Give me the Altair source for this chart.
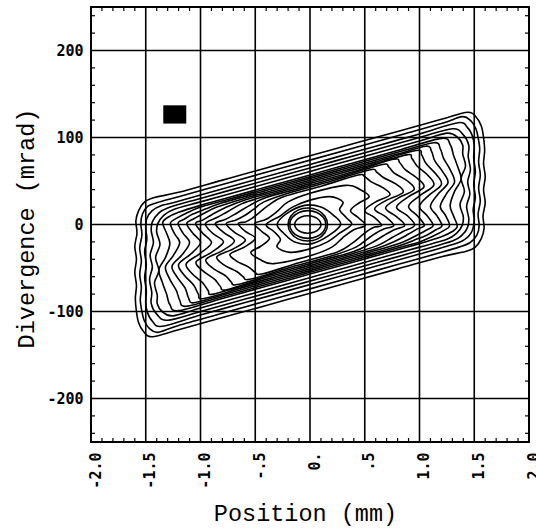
import altair as alt
import pandas as pd

# ---- axis ticks / labels ----
x_tick_values = [-2.0, -1.5, -1.0, -0.5, 0.0, 0.5, 1.0, 1.5, 2.0]
x_tick_labels = ["-2.0", "-1.5", "-1.0", "-.5", "0.", ".5", "1.0", "1.5", "2.0"]
y_tick_values = [-200, -100, 0, 100, 200]
y_tick_labels = ["-200", "-100", "0", "100", "200"]
x_grid = [-1.5, -1.0, -0.5, 0.0, 0.5, 1.0, 1.5]
y_grid = [-200, -100, 0, 100, 200]
x_minor = [-1.9, -1.8, -1.7, -1.6, -1.4, -1.3, -1.2, -1.1, -0.9, -0.8, -0.7, -0.6,
           -0.4, -0.3, -0.2, -0.1, 0.1, 0.2, 0.3, 0.4, 0.6, 0.7, 0.8, 0.9,
           1.1, 1.2, 1.3, 1.4, 1.6, 1.7, 1.8, 1.9]
y_minor = [-240, -220, -180, -160, -140, -120, -80, -60, -40, -20,
           20, 40, 60, 80, 120, 140, 160, 180, 220, 240]

# ---- black square marker ----
marker_x = [-1.34]
marker_x2 = [-1.13]
marker_y = [116]
marker_y2 = [137]

# ---- contour lines (position mm, divergence mrad), outermost first ----
C01 = [(-1.42, 31), (-1.51, 26), (-1.565, 16),
       (-1.59, 4), (-1.58, -10), (-1.60, -25), (-1.585, -40), (-1.60, -55), (-1.585, -70),
       (-1.595, -85), (-1.585, -100), (-1.565, -113), (-1.52, -123), (-1.44, -129),
       (-1.2, -121), (-0.8, -107), (-0.4, -93), (0.0, -79), (0.4, -65), (0.8, -51), (1.2, -37),
       (1.42, -31), (1.51, -26), (1.565, -16),
       (1.59, -4), (1.58, 10), (1.60, 25), (1.585, 40), (1.60, 55), (1.585, 70), (1.595, 85),
       (1.585, 100), (1.565, 113), (1.52, 123), (1.44, 129),
       (1.2, 121), (0.8, 107), (0.4, 93), (0.0, 79), (-0.4, 65), (-0.8, 51), (-1.2, 37)]
C02 = [(-1.40, 25), (-1.48, 21), (-1.53, 12),
       (-1.545, 1), (-1.535, -12), (-1.555, -27), (-1.54, -42), (-1.555, -57), (-1.54, -72),
       (-1.55, -87), (-1.535, -100), (-1.515, -110), (-1.47, -119), (-1.39, -124),
       (-1.2, -116), (-0.8, -102), (-0.4, -88), (0.0, -74), (0.4, -60), (0.8, -46), (1.2, -32),
       (1.36, -26), (1.46, -21), (1.525, -12),
       (1.545, -1), (1.535, 12), (1.555, 27), (1.54, 42), (1.555, 57), (1.54, 72), (1.55, 87),
       (1.535, 100), (1.515, 110), (1.47, 119), (1.39, 124),
       (1.2, 116), (0.8, 102), (0.4, 88), (0.0, 74), (-0.4, 60), (-0.8, 46), (-1.2, 32)]
C03 = [(-1.35, 22), (-1.44, 16), (-1.49, 7),
       (-1.50, -4), (-1.49, -17), (-1.51, -31), (-1.495, -46), (-1.51, -61), (-1.495, -76),
       (-1.50, -90), (-1.485, -101), (-1.44, -111), (-1.35, -117),
       (-1.0, -104), (-0.6, -90), (-0.2, -76), (0.2, -62), (0.6, -48), (1.0, -34), (1.25, -25),
       (1.39, -19), (1.47, -10),
       (1.50, 4), (1.49, 17), (1.51, 31), (1.495, 46), (1.51, 61), (1.495, 76), (1.50, 90),
       (1.485, 101), (1.44, 111), (1.35, 117),
       (1.0, 104), (0.6, 90), (0.2, 76), (-0.2, 62), (-0.6, 48), (-1.0, 34), (-1.25, 25)]
C04 = [(-1.30, 19), (-1.39, 12), (-1.44, 3),
       (-1.45, -7), (-1.43, -21), (-1.46, -35), (-1.44, -49), (-1.465, -63), (-1.445, -78),
       (-1.45, -91), (-1.40, -103), (-1.30, -110),
       (-1.0, -100), (-0.6, -86), (-0.2, -72), (0.2, -58), (0.6, -44), (1.0, -30), (1.30, -19),
       (1.39, -12), (1.44, -3),
       (1.45, 7), (1.43, 21), (1.46, 35), (1.44, 49), (1.465, 63), (1.445, 78), (1.45, 91),
       (1.40, 103), (1.30, 110),
       (1.0, 100), (0.6, 86), (0.2, 72), (-0.2, 58), (-0.6, 44), (-1.0, 30)]
C05 = [(-1.25, 17), (-1.34, 10), (-1.39, 1),
       (-1.40, -9), (-1.37, -23), (-1.41, -38), (-1.38, -53), (-1.42, -67), (-1.395, -81),
       (-1.395, -91), (-1.35, -100), (-1.25, -105),
       (-1.0, -96), (-0.6, -82), (-0.2, -68), (0.2, -54), (0.6, -40), (1.0, -26), (1.25, -17),
       (1.34, -10), (1.39, -1),
       (1.40, 9), (1.37, 23), (1.41, 38), (1.38, 53), (1.42, 67), (1.395, 81), (1.395, 91),
       (1.35, 100), (1.25, 105),
       (1.0, 96), (0.6, 82), (0.2, 68), (-0.2, 54), (-0.6, 40), (-1.0, 26)]
C06 = [(-1.345, 2), (-1.31, -10), (-1.28, -22), (-1.32, -38), (-1.38, -52), (-1.35, -66),
       (-1.31, -80), (-1.28, -92), (-1.2, -99),
       (-0.8, -85), (-0.4, -71), (0.0, -57), (0.4, -43), (0.8, -29), (1.0, -22), (1.2, -14),
       (1.30, -8), (1.345, -2),
       (1.31, 10), (1.28, 22), (1.32, 38), (1.38, 52), (1.35, 66), (1.31, 80), (1.28, 92),
       (1.2, 99),
       (0.8, 85), (0.4, 71), (0.0, 57), (-0.4, 43), (-0.8, 29), (-1.0, 22), (-1.2, 14), (-1.30, 8)]
C07 = [(-1.275, 1.5), (-1.24, -10), (-1.19, -21), (-1.25, -36), (-1.32, -49), (-1.28, -63),
       (-1.22, -76), (-1.19, -87), (-1.13, -94),
       (-0.8, -83), (-0.4, -69), (0.0, -55), (0.4, -41), (0.8, -27), (1.0, -20), (1.13, -13),
       (1.22, -7), (1.275, -1.5),
       (1.24, 10), (1.19, 21), (1.25, 36), (1.32, 49), (1.28, 63), (1.22, 76), (1.19, 87),
       (1.13, 94),
       (0.8, 83), (0.4, 69), (0.0, 55), (-0.4, 41), (-0.8, 27), (-1.0, 20), (-1.13, 13), (-1.22, 7)]
C08 = [(-1.205, 1.5), (-1.16, -10), (-1.10, -21), (-1.17, -35), (-1.26, -48), (-1.21, -61),
       (-1.14, -73), (-1.11, -84), (-1.06, -90),
       (-0.8, -81), (-0.4, -67), (0.0, -53), (0.4, -39), (0.8, -25), (0.95, -18), (1.07, -12),
       (1.15, -6), (1.205, -1.5),
       (1.16, 10), (1.10, 21), (1.17, 35), (1.26, 48), (1.21, 61), (1.14, 73), (1.11, 84),
       (1.06, 90),
       (0.8, 81), (0.4, 67), (0.0, 53), (-0.4, 39), (-0.8, 25), (-0.95, 18), (-1.07, 12), (-1.15, 6)]
C09 = [(-1.125, 1), (-1.07, -10), (-1.00, -21), (-1.09, -34), (-1.20, -46), (-1.15, -58),
       (-1.06, -70), (-1.02, -80), (-0.97, -85),
       (-0.6, -72), (-0.2, -58), (0.2, -44), (0.6, -30), (0.85, -20), (0.98, -12), (1.07, -6),
       (1.125, -1),
       (1.07, 10), (1.00, 21), (1.09, 34), (1.20, 46), (1.15, 58), (1.06, 70), (1.02, 80),
       (0.97, 85),
       (0.6, 72), (0.2, 58), (-0.2, 44), (-0.6, 30), (-0.85, 20), (-0.98, 12), (-1.07, 6)]
C10 = [(-1.045, 1), (-0.98, -10), (-0.90, -21), (-1.00, -33), (-1.13, -45), (-1.08, -56),
       (-0.98, -67), (-0.93, -76), (-0.88, -80),
       (-0.5, -66.5), (-0.1, -52.5), (0.3, -38.5), (0.6, -28), (0.78, -19), (0.9, -11),
       (0.98, -5), (1.045, -1),
       (0.98, 10), (0.90, 21), (1.00, 33), (1.13, 45), (1.08, 56), (0.98, 67), (0.93, 76),
       (0.88, 80),
       (0.5, 66.5), (0.1, 52.5), (-0.3, 38.5), (-0.6, 28), (-0.78, 19), (-0.9, 11), (-0.98, 5)]
C11 = [(-0.955, 1), (-0.89, -10), (-0.79, -20), (-0.90, -32), (-1.04, -43), (-0.98, -53),
       (-0.87, -63), (-0.82, -71), (-0.76, -75),
       (-0.4, -61), (0.0, -47), (0.4, -33), (0.62, -24), (0.75, -15), (0.85, -8), (0.955, -1),
       (0.89, 10), (0.79, 20), (0.90, 32), (1.04, 43), (0.98, 53), (0.87, 63), (0.82, 71),
       (0.76, 75),
       (0.4, 61), (0.0, 47), (-0.4, 33), (-0.62, 24), (-0.75, 15), (-0.85, 8)]
C12 = [(-0.865, 1), (-0.79, -9), (-0.69, -19), (-0.80, -30), (-0.95, -40), (-0.89, -50),
       (-0.77, -59), (-0.72, -66), (-0.66, -69),
       (-0.3, -55.5), (0.1, -41.5), (0.4, -31), (0.55, -22), (0.67, -13), (0.77, -6), (0.865, -1),
       (0.79, 9), (0.69, 19), (0.80, 30), (0.95, 40), (0.89, 50), (0.77, 59), (0.72, 66),
       (0.66, 69),
       (0.3, 55.5), (-0.1, 41.5), (-0.4, 31), (-0.55, 22), (-0.67, 13), (-0.77, 6)]
C13 = [(-0.765, 1), (-0.69, -9), (-0.59, -18), (-0.70, -28), (-0.85, -37), (-0.79, -46),
       (-0.67, -54), (-0.61, -60), (-0.55, -63),
       (-0.2, -50), (0.2, -36), (0.42, -26), (0.52, -17), (0.6, -10), (0.68, -5), (0.765, -1),
       (0.69, 9), (0.59, 18), (0.70, 28), (0.85, 37), (0.79, 46), (0.67, 54), (0.61, 60),
       (0.55, 63),
       (0.2, 50), (-0.2, 36), (-0.42, 26), (-0.52, 17), (-0.6, 10), (-0.68, 5)]
C14 = [(-0.655, 1), (-0.59, -8), (-0.50, -16), (-0.60, -26), (-0.73, -34), (-0.67, -42),
       (-0.56, -49), (-0.50, -55), (-0.44, -57),
       (-0.1, -44), (0.25, -31.5), (0.38, -22), (0.46, -14), (0.53, -7), (0.59, -3), (0.655, -1),
       (0.59, 8), (0.50, 16), (0.60, 26), (0.73, 34), (0.67, 42), (0.56, 49), (0.50, 55),
       (0.44, 57),
       (0.1, 44), (-0.25, 31.5), (-0.38, 22), (-0.46, 14), (-0.53, 7), (-0.59, 3)]
C15 = [(-0.505, 1), (-0.44, -8), (-0.37, -16), (-0.45, -25), (-0.54, -32), (-0.46, -40),
       (-0.33, -45), (0.0, -36), (0.2, -26), (0.3, -15), (0.4, -6), (0.505, -1),
       (0.44, 8), (0.37, 16), (0.45, 25), (0.54, 32), (0.46, 40), (0.33, 45),
       (0.0, 36), (-0.2, 26), (-0.3, 15), (-0.4, 6)]
C16 = [(-0.40, 0), (-0.33, -8), (-0.27, -17), (-0.30, -26), (-0.18, -32), (0.0, -28),
       (0.16, -20), (0.27, -10), (0.38, 0),
       (0.33, 8), (0.27, 17), (0.30, 26), (0.18, 32), (0.0, 28), (-0.16, 20), (-0.27, 10)]
C17 = [(-0.30, 0), (-0.22, 12), (-0.05, 22), (0.10, 20), (0.22, 10), (0.28, 0),
       (0.18, -12), (0.02, -22), (-0.14, -20), (-0.24, -10)]
C18 = [(0.16, 0), (0.136, 9.5), (0.07, 16.5), (-0.02, 19), (-0.11, 16.5), (-0.176, 9.5),
       (-0.20, 0), (-0.176, -9.5), (-0.11, -16.5), (-0.02, -19), (0.07, -16.5), (0.136, -9.5)]
C19 = [(0.145, 0), (0.123, 8), (0.063, 13.9), (-0.02, 16), (-0.10, 13.9), (-0.163, 8),
       (-0.185, 0), (-0.163, -8), (-0.10, -13.9), (-0.02, -16), (0.063, -13.9), (0.123, -8)]
C20 = [(0.10, 0), (0.084, 5), (0.04, 8.7), (-0.02, 10), (-0.08, 8.7), (-0.124, 5),
       (-0.14, 0), (-0.124, -5), (-0.08, -8.7), (-0.02, -10), (0.04, -8.7), (0.084, -5)]

contours = [C01, C02, C03, C04, C05, C06, C07, C08, C09, C10,
            C11, C12, C13, C14, C15, C16, C17, C18, C19, C20]

rows = []
for ci, pts in enumerate(contours):
    for i, (px, py) in enumerate(pts):
        rows.append({"c": ci, "i": i, "x": px, "y": py})
contour_df = pd.DataFrame(rows)

xgrid_df = pd.DataFrame({"x": x_grid})
ygrid_df = pd.DataFrame({"y": y_grid})
xminor_df = pd.DataFrame({"x": x_minor})
yminor_df = pd.DataFrame({"y": y_minor})
marker_df = pd.DataFrame({"x": marker_x, "x2": marker_x2, "y": marker_y, "y2": marker_y2})

W, H = 438, 435
xscale = alt.Scale(domain=[-2, 2], nice=False, zero=False)
yscale = alt.Scale(domain=[-250, 250], nice=False, zero=False)


def js_key(v):
    return f"{v:g}"


x_label_expr = "{" + ", ".join(f"'{js_key(v)}': '{s}'" for v, s in zip(x_tick_values, x_tick_labels)) + "}[toString(datum.value)]"
y_label_expr = "{" + ", ".join(f"'{js_key(v)}': '{s}'" for v, s in zip(y_tick_values, y_tick_labels)) + "}[toString(datum.value)]"

x_axis = alt.Axis(
    values=x_tick_values, labelExpr=x_label_expr, labelAngle=270,
    labelFont="DejaVu Sans Mono", labelFontWeight="bold", labelFontSize=15,
    labelColor="black", labelPadding=10, labelOffset=4, labelFlush=False,
    labelOverlap=False, labelBound=False, ticks=False, domain=False, grid=False,
    title="Position (mm)", titleFont="Liberation Mono", titleFontSize=23.5,
    titleFontWeight="normal", titleColor="black", titleX=214, titleY=71,
    titleBaseline="middle", titleAlign="center",
)
y_axis = alt.Axis(
    values=y_tick_values, labelExpr=y_label_expr,
    labelFont="DejaVu Sans Mono", labelFontWeight="bold", labelFontSize=15,
    labelColor="black", labelPadding=8, labelFlush=False, labelOverlap=False,
    ticks=False, domain=False, grid=False,
    title="Divergence (mrad)", titleFont="Liberation Mono", titleFontSize=23.5,
    titleFontWeight="normal", titleColor="black", titleX=-65, titleY=221,
    titleBaseline="middle", titleAlign="center", titleAngle=270,
)

X = alt.X("x:Q", scale=xscale, axis=x_axis)
Y = alt.Y("y:Q", scale=yscale, axis=y_axis)

grid_v = alt.Chart(xgrid_df).mark_rule(color="black", strokeWidth=1.6).encode(x=X)
grid_h = alt.Chart(ygrid_df).mark_rule(color="black", strokeWidth=1.6).encode(y=Y)

tick_b = alt.Chart(xminor_df).mark_rule(color="black", strokeWidth=1.2).encode(
    x=X, y=alt.value(H), y2=alt.value(H - 4))
tick_t = alt.Chart(xminor_df).mark_rule(color="black", strokeWidth=1.2).encode(
    x=X, y=alt.value(0), y2=alt.value(4))
tick_l = alt.Chart(yminor_df).mark_rule(color="black", strokeWidth=1.2).encode(
    y=Y, x=alt.value(0), x2=alt.value(4))
tick_r = alt.Chart(yminor_df).mark_rule(color="black", strokeWidth=1.2).encode(
    y=Y, x=alt.value(W), x2=alt.value(W - 4))

lines = alt.Chart(contour_df).mark_line(
    interpolate="cardinal-closed", color="black", strokeWidth=1.6
).encode(x=X, y=Y, detail="c:N", order="i:Q")

marker = alt.Chart(marker_df).mark_rect(color="black").encode(
    x=X, x2="x2:Q", y=Y, y2="y2:Q")

chart = alt.layer(
    grid_v, grid_h, tick_b, tick_t, tick_l, tick_r, lines, marker
).properties(
    width=W, height=H,
    padding={"left": 91, "top": 7, "right": 7, "bottom": 89},
    autosize=alt.AutoSizeParams(type="none"),
    background="white",
).configure_view(stroke="black", strokeWidth=2)

chart.save("out.html", embed_options={"renderer": "svg", "actions": False})
